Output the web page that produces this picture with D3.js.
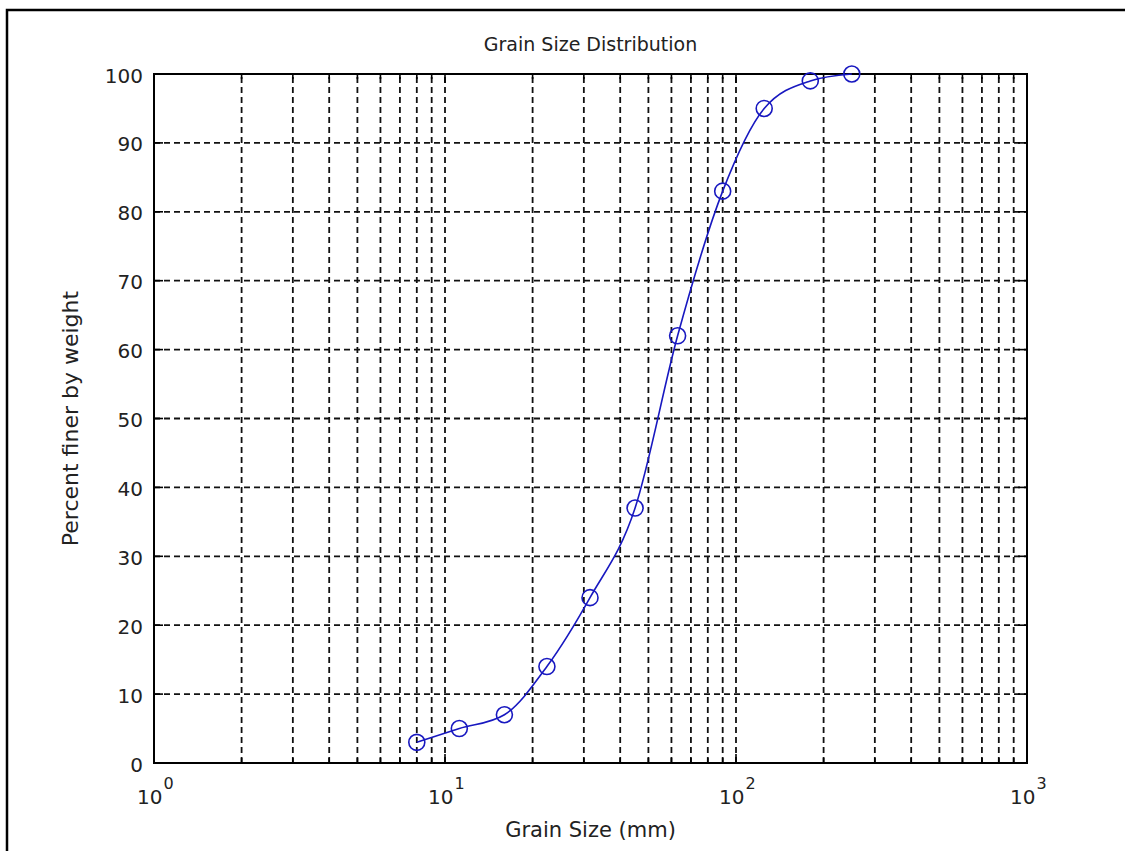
<!DOCTYPE html>
<html>
<head>
<meta charset="utf-8">
<script src="https://cdn.jsdelivr.net/npm/d3@7"></script>
<style>
  body { margin: 0; background: #fff; }
  text { font-family: "DejaVu Sans", "Liberation Sans", sans-serif; fill: #222; }
</style>
</head>
<body>
<div id="chart"></div>
<script>
// sieve sizes (mm) and percent passing
const grainSize = [8, 11.2, 16, 22.4, 31.5, 45, 63, 90, 125, 180, 250];
const percentFiner = [3, 5, 7, 14, 24, 37, 62, 83, 95, 99, 100];
const yTicks = [0, 10, 20, 30, 40, 50, 60, 70, 80, 90, 100];
const xDecades = [0, 1, 2, 3];

const W = 1125, H = 851;
const pLeft = 154, pRight = 1027, pTop = 74, pBottom = 763;

const svg = d3.select("#chart").append("svg")
  .attr("width", W).attr("height", H);

// outer frame
svg.append("path")
  .attr("d", `M7,${H} L7,10 L${W},10`)
  .attr("fill", "none").attr("stroke", "#000").attr("stroke-width", 2.5);

const x = d3.scaleLog().domain([1, 1000]).range([pLeft, pRight]);
const y = d3.scaleLinear().domain([0, 100]).range([pBottom, pTop]);

// minor positions on log axis
const xMinor = [];
xDecades.slice(0, -1).forEach(d => {
  for (let k = 2; k <= 9; k++) xMinor.push(k * Math.pow(10, d));
});
const xMajor = xDecades.map(d => Math.pow(10, d));

const grid = svg.append("g")
  .attr("stroke", "#111").attr("stroke-width", 1.8)
  .attr("stroke-dasharray", "6,4").attr("fill", "none");

xMajor.concat(xMinor).forEach(v => {
  if (v === 1 || v === 1000) return;
  grid.append("line")
    .attr("x1", x(v)).attr("x2", x(v))
    .attr("y1", pBottom).attr("y2", pTop);
});
yTicks.forEach(v => {
  if (v === 0 || v === 100) return;
  grid.append("line")
    .attr("x1", pLeft).attr("x2", pRight)
    .attr("y1", y(v)).attr("y2", y(v));
});

// ticks inward on all four sides
const ticks = svg.append("g").attr("stroke", "#000").attr("stroke-width", 1.6);
yTicks.forEach(v => {
  ticks.append("line").attr("x1", pLeft).attr("x2", pLeft + 9).attr("y1", y(v)).attr("y2", y(v));
  ticks.append("line").attr("x1", pRight).attr("x2", pRight - 9).attr("y1", y(v)).attr("y2", y(v));
});
xMajor.forEach(v => {
  ticks.append("line").attr("x1", x(v)).attr("x2", x(v)).attr("y1", pBottom).attr("y2", pBottom - 9);
  ticks.append("line").attr("x1", x(v)).attr("x2", x(v)).attr("y1", pTop).attr("y2", pTop + 9);
});
xMinor.forEach(v => {
  ticks.append("line").attr("x1", x(v)).attr("x2", x(v)).attr("y1", pBottom).attr("y2", pBottom - 5);
  ticks.append("line").attr("x1", x(v)).attr("x2", x(v)).attr("y1", pTop).attr("y2", pTop + 5);
});

// axes box
svg.append("rect")
  .attr("x", pLeft).attr("y", pTop)
  .attr("width", pRight - pLeft).attr("height", pBottom - pTop)
  .attr("fill", "none").attr("stroke", "#000").attr("stroke-width", 2);

// y tick labels
svg.append("g").selectAll("text").data(yTicks).join("text")
  .attr("x", pLeft - 11).attr("y", d => y(d) + 8.5)
  .attr("text-anchor", "end").attr("font-size", 20)
  .text(d => d);

// x tick labels 10^n
const xl = svg.append("g").selectAll("text").data(xDecades).join("text")
  .attr("x", d => x(Math.pow(10, d)) - 17).attr("y", pBottom + 41)
  .attr("text-anchor", "start").attr("font-size", 20);
xl.append("tspan").text("10");
xl.append("tspan").attr("dx", 1).attr("dy", -15).attr("font-size", 16).text(d => d);

// titles
svg.append("text")
  .attr("x", (pLeft + pRight) / 2).attr("y", 51)
  .attr("text-anchor", "middle").attr("font-size", 19)
  .text("Grain Size Distribution");

svg.append("text")
  .attr("x", (pLeft + pRight) / 2).attr("y", 837)
  .attr("text-anchor", "middle").attr("font-size", 21)
  .text("Grain Size (mm)");

svg.append("text")
  .attr("transform", `translate(78,${(pTop + pBottom) / 2}) rotate(-90)`)
  .attr("text-anchor", "middle").attr("font-size", 22)
  .text("Percent finer by weight");

// data
const pts = grainSize.map((g, i) => [g, percentFiner[i]]);

const line = d3.line()
  .x(d => x(d[0])).y(d => y(d[1]))
  .curve(d3.curveMonotoneX);

svg.append("path")
  .datum(pts)
  .attr("d", line)
  .attr("fill", "none").attr("stroke", "#1818c0").attr("stroke-width", 1.6);

svg.append("g").selectAll("circle").data(pts).join("circle")
  .attr("cx", d => x(d[0])).attr("cy", d => y(d[1]))
  .attr("r", 8)
  .attr("fill", "none").attr("stroke", "#1818c0").attr("stroke-width", 1.6);
</script>
</body>
</html>
